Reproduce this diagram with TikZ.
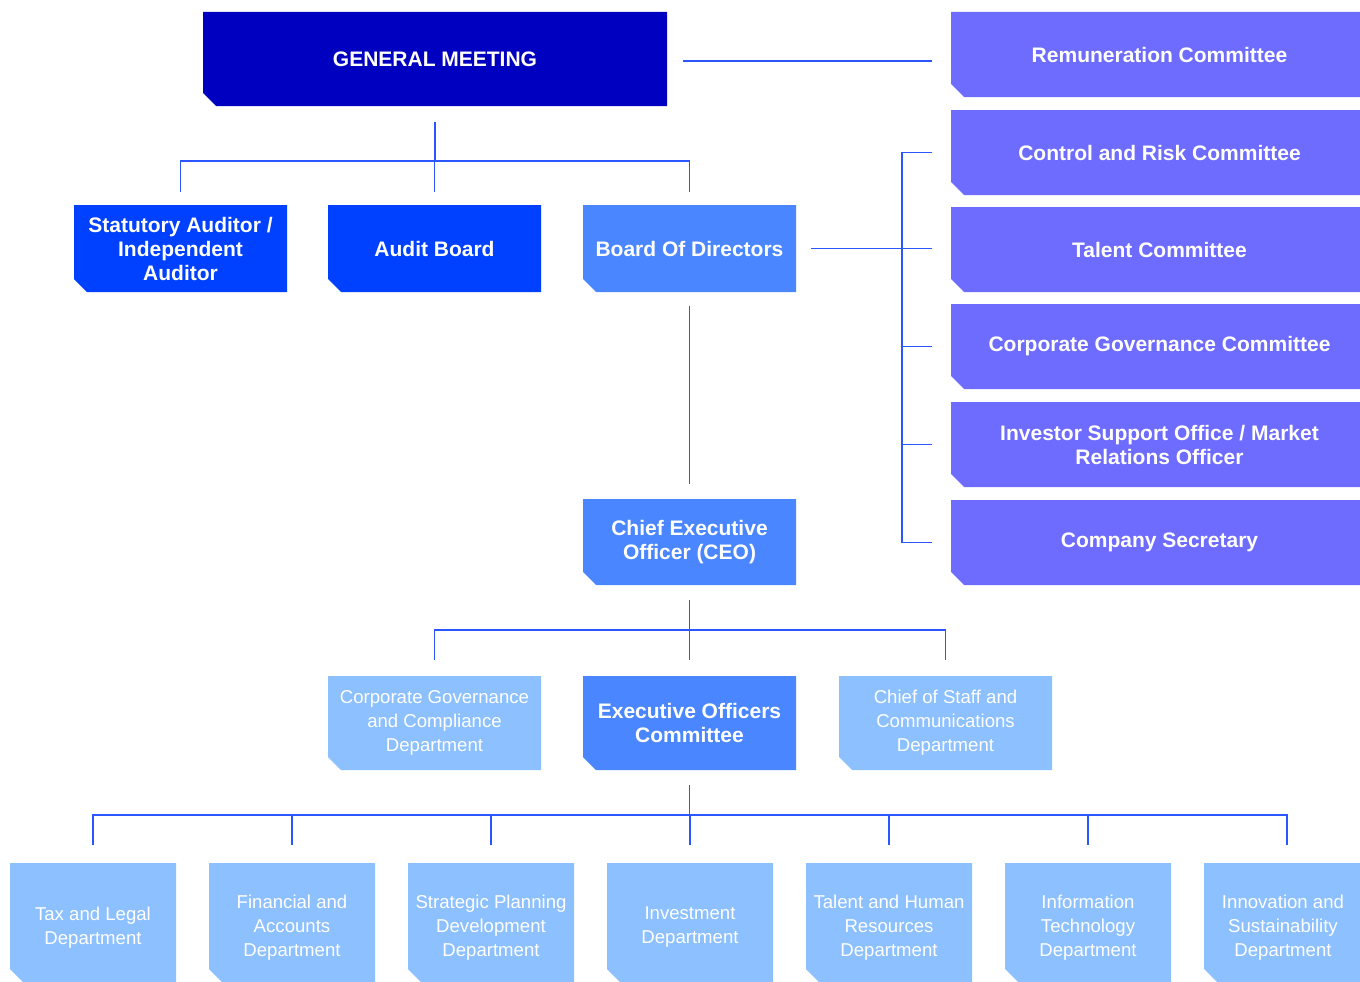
\documentclass[tikz,border=0pt]{standalone}
\usepackage{fontspec}
\setmainfont{Liberation Sans}
\definecolor{gmblue}{HTML}{0000C0}
\definecolor{strongblue}{HTML}{0040FF}
\definecolor{midblue}{HTML}{4A86FF}
\definecolor{lightblue}{HTML}{8CC0FF}
\definecolor{commblue}{HTML}{6E6BFF}
\definecolor{lineblue}{HTML}{2A55FF}
\tikzset{
  conn/.style={draw=lineblue, line width=1.3pt},
  boldtxt/.style={text=white, font=\fontsize{21}{24}\selectfont\bfseries, align=center},
  lighttxt/.style={text=white, font=\fontsize{18.6}{24}\selectfont, align=center},
  lowtxt/.style={lighttxt, text depth=0pt, yshift=-3pt}
}
% \orgbox{name}{x1}{y1}{x2}{y2}{fill}{textstyle}{text}
\newcommand\orgbox[8]{%
  \fill[#6] (#2,#3) -- (#4,#3) -- (#4,#5) -- ({#2+13},#5) -- (#2,{#5-13}) -- cycle;
  \node[#7, inner sep=0pt, minimum width={(#4-#2)*1pt}, minimum height={(#5-#3)*1pt}] (#1) at ({(#2+#4)/2},{(#3+#5)/2}) {#8};
}
\begin{document}
\begin{tikzpicture}[x=1pt,y=-1pt]
\useasboundingbox (0,0) rectangle (1360,982);
\begin{scope}
\clip (0,0) rectangle (1360,982);
% top
\orgbox{gm}{203}{12}{667}{106}{gmblue}{boldtxt}{GENERAL MEETING}
\orgbox{sa}{74}{205}{287}{292}{strongblue}{boldtxt}{Statutory Auditor /\\Independent\\Auditor}
\orgbox{ab}{328}{205}{541}{292}{strongblue}{boldtxt}{Audit Board}
\orgbox{bod}{583}{205}{796}{292}{midblue}{boldtxt}{Board Of Directors}
% committees
\orgbox{rem}{951}{12}{1368}{97}{commblue}{boldtxt}{Remuneration Committee}
\orgbox{crc}{951}{110}{1368}{195}{commblue}{boldtxt}{Control and Risk Committee}
\orgbox{tc}{951}{207}{1368}{292}{commblue}{boldtxt}{Talent Committee}
\orgbox{cgc}{951}{304}{1368}{389}{commblue}{boldtxt}{Corporate Governance Committee}
\orgbox{iso}{951}{402}{1368}{487}{commblue}{boldtxt}{Investor Support Office / Market\\Relations Officer}
\orgbox{cs}{951}{500}{1368}{585}{commblue}{boldtxt}{Company Secretary}
% CEO
\orgbox{ceo}{583}{499}{796}{585}{midblue}{boldtxt}{Chief Executive\\Officer (CEO)}
\orgbox{cgd}{328}{676}{541}{770}{lightblue}{lighttxt}{Corporate Governance\\and Compliance\\Department}
\orgbox{eoc}{583}{676}{796}{770}{midblue}{boldtxt}{Executive Officers\\Committee}
\orgbox{csd}{839}{676}{1052}{770}{lightblue}{lighttxt}{Chief of Staff and\\Communications\\Department}
% bottom row
\orgbox{d1}{10}{863}{176}{982}{lightblue}{lowtxt}{Tax and Legal\\Department}
\orgbox{d2}{209}{863}{375}{982}{lightblue}{lowtxt}{Financial and\\Accounts\\Department}
\orgbox{d3}{408}{863}{574}{982}{lightblue}{lowtxt}{Strategic Planning\\Development\\Department}
\orgbox{d4}{607}{863}{773}{982}{lightblue}{lowtxt}{Investment\\Department}
\orgbox{d5}{806}{863}{972}{982}{lightblue}{lowtxt}{Talent and Human\\Resources\\Department}
\orgbox{d6}{1005}{863}{1171}{982}{lightblue}{lowtxt}{Information\\Technology\\Department}
\orgbox{d7}{1204}{863}{1362}{982}{lightblue}{lowtxt}{Innovation and\\Sustainability\\Department}
\end{scope}
% ---- connectors ----
% general meeting to remuneration
\coordinate (gmR) at (683,61);
\coordinate (remL) at (932,61);
\draw[conn] (gmR) -- (remL);
% general meeting tree
\coordinate (b1) at (434,161);
\draw[conn] ([yshift=-16pt]gm.south) -- (gm.south |- b1);
\draw[conn] ([yshift=13pt]sa.north) -- (sa.north |- b1) -- (bod.north |- b1) -- ([yshift=13pt]bod.north);
\draw[conn] ([yshift=13pt]ab.north) -- (ab.north |- b1);
% board to committees
\coordinate (brk) at (902,249);
\coordinate (tk) at (932,249);
\draw[conn] ([xshift=15pt]bod.east) -- (tk |- bod.east);
\draw[conn] (tk |- crc.west) -- (brk |- crc.west) -- (brk |- cs.west) -- (tk |- cs.west);
\draw[conn] (brk |- cgc.west) -- (tk |- cgc.west);
\draw[conn] (brk |- iso.west) -- (tk |- iso.west);
% board to CEO
\draw[conn] ([yshift=-14pt]bod.south) -- ([yshift=15pt]ceo.north);
% CEO tree
\coordinate (b2) at (689,630);
\draw[conn] ([yshift=-15pt]ceo.south) -- (ceo.south |- b2);
\draw[conn] ([yshift=16pt]cgd.north) -- (cgd.north |- b2) -- (csd.north |- b2) -- ([yshift=16pt]csd.north);
\draw[conn] ([yshift=16pt]eoc.north) -- (eoc.north |- b2);
% executive committee tree
\coordinate (b3) at (689,815);
\coordinate (x1) at (93,845);
\coordinate (x7) at (1287,845);
\draw[conn] ([yshift=-15pt]eoc.south) -- (eoc.south |- b3);
\draw[conn] (x1) -- (x1 |- b3) -- (x7 |- b3) -- (x7);
\draw[conn] ([yshift=21pt]d2.north) -- (d2.north |- b3);
\draw[conn] ([yshift=21pt]d3.north) -- (d3.north |- b3);
\draw[conn] ([yshift=21pt]d4.north) -- (d4.north |- b3);
\draw[conn] ([yshift=21pt]d5.north) -- (d5.north |- b3);
\draw[conn] ([yshift=21pt]d6.north) -- (d6.north |- b3);
\end{tikzpicture}
\end{document}
